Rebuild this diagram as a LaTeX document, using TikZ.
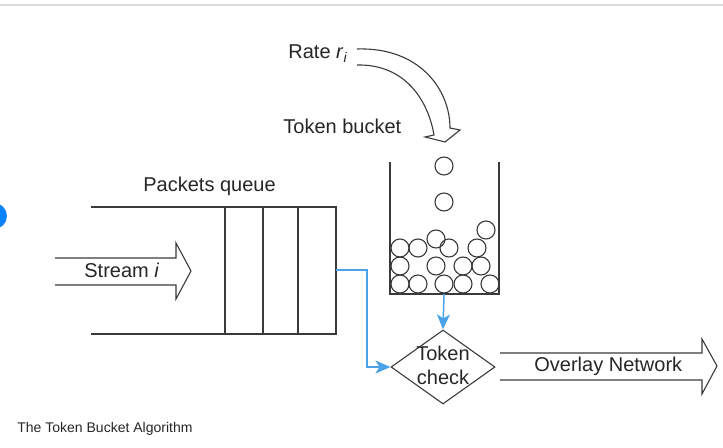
\documentclass[tikz,border=0pt]{standalone}
\usepackage{fontspec}
\setmainfont{Liberation Sans}
\usetikzlibrary{arrows.meta,shapes.geometric}
\definecolor{inkgray}{HTML}{3A3A3A}
\definecolor{flowblue}{HTML}{4AA3E8}
\definecolor{dotblue}{HTML}{0A84FF}
\definecolor{rulegray}{HTML}{DADADA}

\begin{document}
\begin{tikzpicture}[x=0.5pt,y=-0.5pt,
  lbl/.style={font=\fontsize{10}{12}\selectfont, text=black!85, inner sep=0pt},
  ink/.style={inkgray, line width=0.55pt},
  flow/.style={flowblue, line width=0.75pt, -{Stealth[length=7.5pt,width=6.5pt,inset=2pt]}}]
\useasboundingbox (0,0) rectangle (723,448);
% page bits
\draw[rulegray, line width=0.8pt] (0,5) -- (723,5);
\fill[dotblue] (-6,216) circle[radius=6.5pt];
%RATE
\draw[ink] (357,49) .. controls (420,47) and (450,90) .. (450,128)
  -- (460,130) -- (445,142) -- (425,137) -- (434,135)
  .. controls (428,100) and (405,64) .. (357,65);
\node[lbl, anchor=base west] (rate) at (288,59) {Rate \textit{r}\textsubscript{\textit{i}}};
\node[lbl, anchor=base west] (bucketlbl) at (283,134) {Token bucket};
%BUCKET
\draw[ink] (390,162) -- (390,294) -- (499,294) -- (499,162);
\foreach \cx/\cy in {444/166, 444/202, 486/230, 436/239, 400/248, 418/248,
  449/248, 477/248, 400/266, 436/266, 463/266, 481/266, 400/284, 418/284,
  444/284, 463/284, 490/284}
  \draw[ink] (\cx,\cy) circle[radius=4.5pt];
\coordinate (bout) at (444,294);
%QUEUE
\node[lbl, anchor=base west] (queuelbl) at (143,192) {Packets queue};
\draw[ink] (91,207) -- (225,207);
\draw[ink] (91,334) -- (225,334);
\draw[ink] (225,207) rectangle (336,334);
\draw[ink] (263,207) -- (263,334);
\draw[ink] (298,207) -- (298,334);
\coordinate (qout) at (336,270);
%STREAM
\draw[ink] (55,258) -- (176,258) -- (176,243) -- (191,271) -- (176,299)
  -- (176,285) -- (55,285);
\node[lbl, anchor=base west] (stream) at (84,278) {Stream \textit{i}};
%CHECK
\node[ink, draw, diamond, minimum width=52pt, minimum height=37pt, inner sep=0pt]
  (check) at (443,367) {};
\node[lbl, align=center, yshift=1pt] (checklbl) at (check) {Token\\check};
\draw[flow] (qout) -- ++(31,0) |- (check.west);
\draw[flow] (bout) -- (check.north);
%OUT
\draw[ink] (500,353) -- (702,353) -- (702,339) -- (717,366) -- (702,394)
  -- (702,380) -- (500,380);
\node[lbl, anchor=base west] (overlay) at (534,372) {Overlay Network};
% caption
\node[anchor=base west, inner sep=0pt, font=\fontsize{7}{8}\selectfont, text=black!85]
  (caption) at (17,433) {The Token Bucket Algorithm};
\end{tikzpicture}
\end{document}
